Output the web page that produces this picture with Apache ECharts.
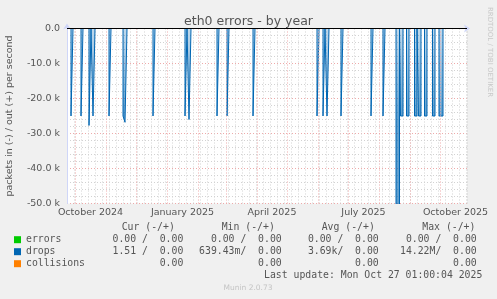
<!DOCTYPE html>
<html>
<head>
<meta charset="utf-8">
<script src="https://cdn.jsdelivr.net/npm/echarts@6/dist/echarts.min.js"></script>
<style>
html,body{margin:0;padding:0;background:#f0f0f0;}
#c{width:497px;height:299px;}
</style>
</head>
<body>
<div id="c"></div>
<script>
// ---- data ----
const title = 'eth0 errors - by year';
const yAxisName = 'packets in (-) / out (+) per second';
const axisStart = '2024-09-23';
const axisDays = 400;

// drops (in, plotted negative): each entry holds from its date until the next one
const dropDates = [
  '2024-09-23',
  '2024-09-27', '2024-09-29',
  '2024-10-07', '2024-10-09',
  '2024-10-15', '2024-10-17',
  '2024-10-19', '2024-10-21',
  '2024-11-04', '2024-11-06',
  '2024-11-18', '2024-11-19', '2024-11-20', '2024-11-22',
  '2024-12-18', '2024-12-20',
  '2025-01-19', '2025-01-21',
  '2025-01-23', '2025-01-25',
  '2025-02-20', '2025-02-22',
  '2025-03-02', '2025-03-04',
  '2025-03-28', '2025-03-30',
  '2025-05-31', '2025-06-02',
  '2025-06-06', '2025-06-08',
  '2025-06-10', '2025-06-12',
  '2025-06-24', '2025-06-26',
  '2025-07-24', '2025-07-26',
  '2025-08-05', '2025-08-07',
  '2025-08-18', '2025-08-21T12:00Z',
  '2025-08-22T12:00Z', '2025-08-25',
  '2025-08-28T12:00Z', '2025-08-31',
  '2025-09-05T12:00Z', '2025-09-08',
  '2025-09-09T12:00Z', '2025-09-12',
  '2025-09-15T12:00Z', '2025-09-18',
  '2025-09-23T12:00Z', '2025-09-26',
  '2025-09-30', '2025-10-04',
  '2025-10-27T01:00Z'
];
const dropValues = [
  0,
  -25000, 0,
  -25000, 0,
  -27700, 0,
  -25000, 0,
  -25000, 0,
  -25000, -25500, -26800, 0,
  -25000, 0,
  -25000, 0,
  -26000, 0,
  -25000, 0,
  -25000, 0,
  -25000, 0,
  -25000, 0,
  -25000, 0,
  -25000, 0,
  -25000, 0,
  -25000, 0,
  -25000, 0,
  -55000, 0,
  -25000, 0,
  -25000, 0,
  -25000, 0,
  -25000, 0,
  -25000, 0,
  -25000, 0,
  -25000, 0,
  0
];
const errorDates = ['2024-09-23', '2025-10-27T01:00Z'];
const errorValues = [0, 0];
const collisionDates = ['2024-09-23', '2025-10-27T01:00Z'];
const collisionValues = [0, 0];

const yTicks = [0, -10000, -20000, -30000, -40000, -50000];
const xLabelMonths = ['2024-10', '2025-01', '2025-04', '2025-07', '2025-10'];
const xLabelTexts = ['October 2024', 'January 2025', 'April 2025', 'July 2025', 'October 2025'];

const legendNames = ['errors', 'drops', 'collisions'];
const legendColors = ['#00cc00', '#0066b3', '#ff8000'];
const tableHeaders = ['Cur (-/+)', 'Min (-/+)', 'Avg (-/+)', 'Max (-/+)'];
const tableRows = [
  ['0.00 /  0.00', '0.00 /  0.00', '0.00 /  0.00', '0.00 /  0.00'],
  ['1.51 /  0.00', '639.43m/  0.00', '3.69k/  0.00', '14.22M/  0.00'],
  ['0.00', '0.00', '0.00', '0.00']
];
const lastUpdate = 'Last update: Mon Oct 27 01:00:04 2025';
const footer = 'Munin 2.0.73';
const sideText = 'RRDTOOL / TOBI OETIKER';

// ---- helpers ----
const DAY = 86400000;
const START = Date.parse(axisStart);
function toDay(s) { return (Date.parse(s.length === 7 ? s + '-01' : s) - START) / DAY; }
function pairs(dates, vals) { return dates.map((d, i) => [toDay(d), vals[i]]); }
function nextMonth(s) {
  const y = +s.slice(0, 4), m = +s.slice(5, 7);
  return m === 12 ? (y + 1) + '-01' : y + '-' + String(m + 1).padStart(2, '0');
}
// month boundaries inside the axis (major grid)
const monthStarts = [];
for (let y = 2024, m = 9; ; ) {
  const d = (Date.UTC(y, m, 1) - START) / DAY;
  if (d > axisDays) break;
  if (d > 0) monthStarts.push(d);
  m++; if (m > 11) { m = 0; y++; }
}
const labelCenters = xLabelMonths.map(mo => (toDay(mo) + toDay(nextMonth(mo))) / 2);

const FONT = 'DejaVu Sans';
const MONO = 'DejaVu Sans Mono';
const TXT = '#555555';
const GRID_GREY = '#d2d2d2';
const GRID_RED = '#eeaaaa';
const AXIS = '#cfd6f8';

const chart = echarts.init(document.getElementById('c'), null, {renderer: 'canvas'});

const colRight = [183.3, 281.7, 378.7, 476.7];
const headLeft = [121.7, 221.7, 321.7, 422.3];
const rowY = [239.7, 251.7, 263.3];
const graphics = [];
tableHeaders.forEach((h, i) => graphics.push({
  type: 'text', x: headLeft[i], y: 227.3,
  style: {text: h, font: '9.8px ' + MONO, fill: TXT, align: 'left', verticalAlign: 'middle'}
}));
tableRows.forEach((row, r) => row.forEach((v, i) => graphics.push({
  type: 'text', x: colRight[i], y: rowY[r],
  style: {text: v, font: '9.8px ' + MONO, fill: TXT, align: 'right', verticalAlign: 'middle'}
})));
graphics.push({type: 'text', x: 482.3, y: 275.3,
  style: {text: lastUpdate, font: '9.8px ' + MONO, fill: TXT, align: 'right', verticalAlign: 'middle'}});
graphics.push({type: 'text', x: 248, y: 288.5,
  style: {text: footer, font: '7.5px ' + FONT, fill: '#c4c4c4', align: 'center', verticalAlign: 'middle'}});
graphics.push({type: 'text', x: 490, y: 52, rotation: -Math.PI / 2,
  style: {text: sideText, font: '7px ' + FONT, fill: '#c8c8c8', align: 'center', verticalAlign: 'middle'}});

const option = {
  backgroundColor: '#f0f0f0',
  animation: false,
  title: {
    text: title, left: 'center', top: 10,
    textStyle: {fontFamily: FONT, fontSize: 12.5, fontWeight: 'normal', color: TXT}
  },
  legend: {
    data: legendNames, orient: 'vertical', left: 14, top: 233.7, padding: 0,
    itemWidth: 7, itemHeight: 7, itemGap: 0, icon: 'rect', selectedMode: false,
    textStyle: {fontFamily: MONO, fontSize: 9.8, color: TXT, lineHeight: 12}
  },
  grid: {left: 67, right: 30, top: 28.5, bottom: 95.5, show: true, backgroundColor: '#ffffff', borderWidth: 0,
    containLabel: false, outerBoundsMode: 'none'},
  xAxis: [{
    type: 'value', min: 0, max: axisDays, interval: 7,
    axisLine: {show: true, lineStyle: {color: AXIS, width: 1}, symbol: ['none', 'arrow'], symbolSize: [6, 6], symbolOffset: [0, 3]},
    axisTick: {show: false}, axisLabel: {show: false},
    splitLine: {show: true, lineStyle: {color: GRID_GREY, type: [1, 2], width: 1}}
  }, {
    type: 'value', min: 0, max: axisDays, position: 'bottom', offset: 0,
    axisLine: {show: false}, axisTick: {show: false}, splitLine: {show: false},
    axisLabel: {
      show: true, customValues: labelCenters, margin: 4,
      fontFamily: FONT, fontSize: 9.5, color: TXT,
      formatter: v => { const i = labelCenters.findIndex(c => Math.abs(c - v) < 1e-6); return i >= 0 ? xLabelTexts[i] : ''; }
    }
  }],
  yAxis: {
    type: 'value', min: yTicks[yTicks.length - 1], max: yTicks[0], interval: 10000,
    name: yAxisName, nameLocation: 'middle', nameGap: 52,
    nameTextStyle: {fontFamily: FONT, fontSize: 9.5, color: TXT},
    axisLine: {show: true, lineStyle: {color: AXIS, width: 1}, symbol: ['none', 'arrow'], symbolSize: [6, 6], symbolOffset: [0, 5]},
    axisTick: {show: false},
    axisLabel: {
      margin: 7, fontFamily: FONT, fontSize: 9.5, color: TXT,
      formatter: v => v === 0 ? '0.0' : (v / 1000).toFixed(1) + ' k'
    },
    splitLine: {show: true, lineStyle: {color: GRID_RED, type: [1, 2], width: 1}},
    minorTick: {show: false, splitNumber: 5},
    minorSplitLine: {show: true, lineStyle: {color: GRID_GREY, type: [1, 2], width: 1}}
  },
  series: [
    {
      name: 'monthgrid', type: 'line', z: 1, data: [[0, null]], silent: true,
      showSymbol: false,
      markLine: {
        silent: true, symbol: ['none', 'none'], label: {show: false},
        lineStyle: {color: GRID_RED, type: [1, 2], width: 1},
        data: monthStarts.map(d => ({xAxis: d}))
      }
    },
    {
      name: 'errors', type: 'line', z: 2, color: legendColors[0],
      data: pairs(errorDates, errorValues), showSymbol: false, lineStyle: {width: 1}
    },
    {
      name: 'collisions', type: 'line', z: 2, color: legendColors[2],
      data: pairs(collisionDates, collisionValues), showSymbol: false, lineStyle: {width: 1}
    },
    {
      name: 'drops', type: 'line', z: 3, color: legendColors[1], step: 'end',
      data: pairs(dropDates, dropValues), showSymbol: false, clip: true,
      lineStyle: {width: 1, color: '#0066b3'},
      areaStyle: {
        origin: 0,
        color: {type: 'linear', x: 0, y: 28, x2: 0, y2: 116, global: true,
          colorStops: [{offset: 0, color: 'rgba(0,102,179,0.35)'}, {offset: 1, color: 'rgba(0,102,179,0.9)'}]}
      },
      markLine: {
        silent: true, symbol: ['none', 'none'], label: {show: false},
        lineStyle: {color: '#000000', type: 'solid', width: 1},
        data: [{yAxis: 0}]
      }
    }
  ],
  graphic: graphics
};
chart.setOption(option);
</script>
</body>
</html>
